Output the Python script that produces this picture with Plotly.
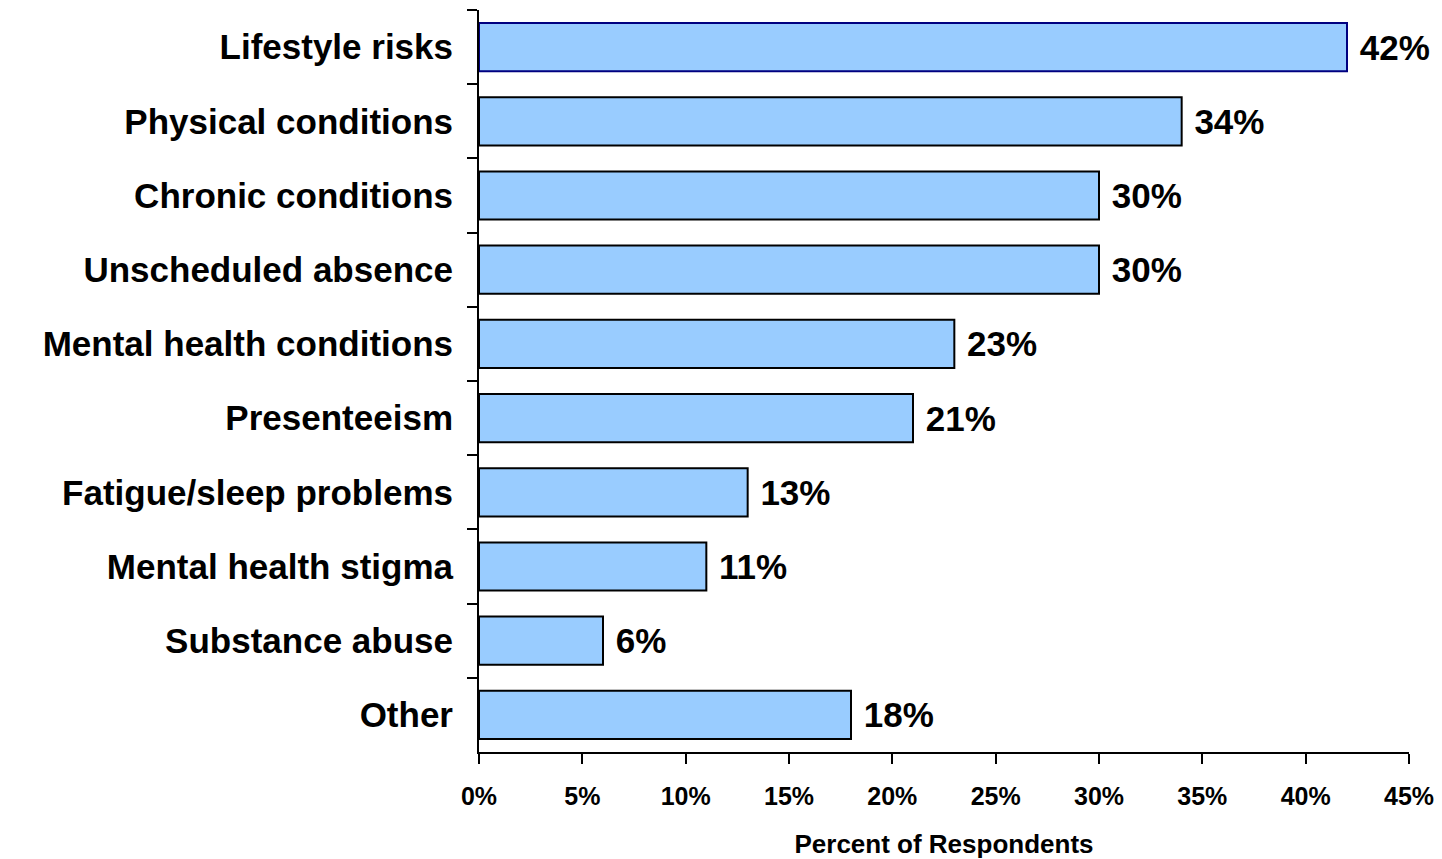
import plotly.graph_objects as go

categories = ["Lifestyle risks", "Physical conditions", "Chronic conditions",
              "Unscheduled absence", "Mental health conditions", "Presenteeism",
              "Fatigue/sleep problems", "Mental health stigma", "Substance abuse", "Other"]
values = [42, 34, 30, 30, 23, 21, 13, 11, 6, 18]
x_ticks = [0, 5, 10, 15, 20, 25, 30, 35, 40, 45]
x_tick_labels = [f"{v}%" for v in x_ticks]

FONT = "Liberation Sans, Arial, sans-serif"
outline = ["#000080"] + ["#000000"] * (len(values) - 1)

fig = go.Figure(go.Bar(
    y=categories, x=values, orientation="h",
    marker=dict(color="#99CCFF", line=dict(color=outline, width=2)),
    width=0.65,
    text=[f" {v}%" for v in values], textposition="outside",
    textfont=dict(family=FONT, size=35, color="black", weight="bold"),
    constraintext="none", cliponaxis=False,
))

fig.update_layout(
    width=1442, height=859,
    margin=dict(l=479, r=33, t=10, b=107),
    paper_bgcolor="white", plot_bgcolor="white",
    showlegend=False,
    font=dict(family=FONT, color="black"),
)
fig.update_yaxes(
    autorange="reversed", showgrid=False, zeroline=False,
    showline=True, linecolor="black", linewidth=2,
    ticks="outside", ticklen=10, tickwidth=2, tickcolor="black",
    tickson="boundaries", ticklabelstandoff=17, automargin=False,
    tickfont=dict(family=FONT, size=35, color="black", weight="bold"),
)
fig.update_xaxes(
    range=[0, 45], showgrid=False, zeroline=False,
    showline=True, linecolor="black", linewidth=2,
    ticks="outside", ticklen=10, tickwidth=2, tickcolor="black",
    tickmode="array", tickvals=x_ticks, ticktext=x_tick_labels,
    ticklabelstandoff=11, automargin=False,
    tickfont=dict(family=FONT, size=25, color="black", weight="bold"),
    title=dict(text="Percent of Respondents", standoff=30,
               font=dict(family=FONT, size=26, color="black", weight="bold")),
)

fig.write_html("out.html")
